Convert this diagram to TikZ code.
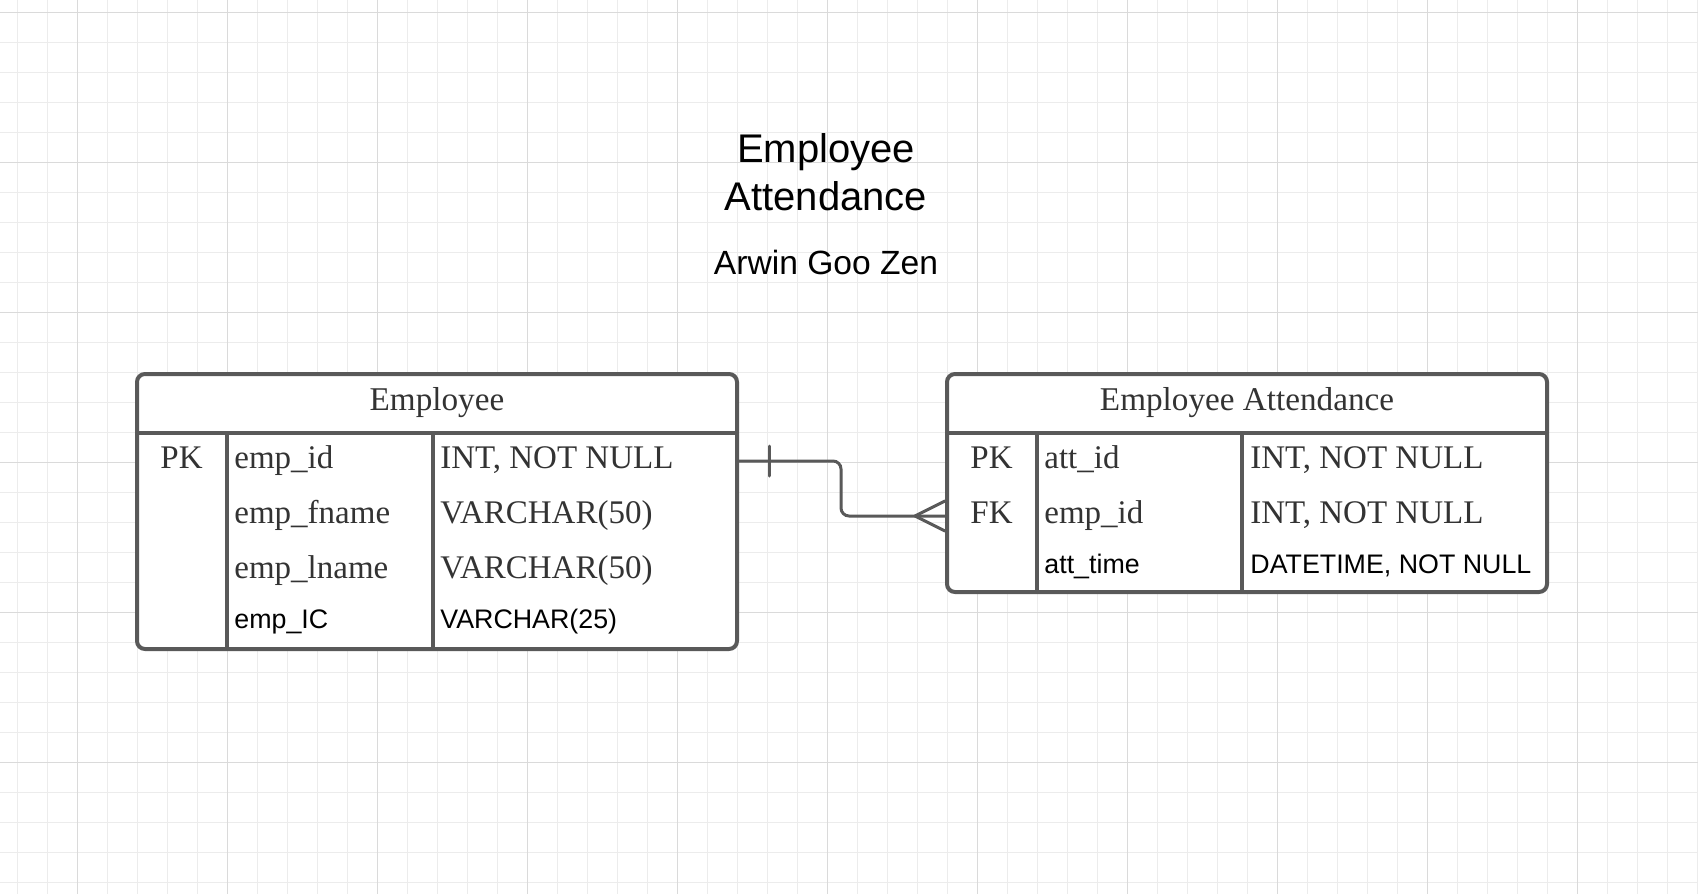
\documentclass[tikz,border=0pt]{standalone}
\usepackage{fontspec}
\setmainfont{Liberation Serif}
\setsansfont{Liberation Sans}
\usetikzlibrary{positioning}

\newlength{\du}
\setlength{\du}{0.5pt}

\definecolor{gridminor}{rgb}{0.925, 0.925, 0.925}
\definecolor{gridmajor}{rgb}{0.855, 0.855, 0.855}
\definecolor{boxline}{rgb}{0.350, 0.350, 0.350}
\definecolor{celltext}{rgb}{0.200, 0.200, 0.200}

\tikzset{
  minorline/.style={draw=gridminor, line width=1\du},
  majorline/.style={draw=gridmajor, line width=1\du},
  tablebox/.style={draw=boxline, fill=white, line width=4\du, rounded corners=8\du, inner sep=0pt},
  tableline/.style={draw=boxline, line width=4\du},
  relline/.style={draw=boxline, line width=3\du, line cap=round},
  headtext/.style={anchor=base, text=celltext, inner sep=0pt, font=\fontsize{16.6}{19}\selectfont},
  celltxt/.style={anchor=base west, text=celltext, inner sep=0pt, font=\fontsize{16.5}{19}\selectfont},
  keytxt/.style={anchor=base, text=celltext, inner sep=0pt, font=\fontsize{16.5}{19}\selectfont},
  sanstxt/.style={anchor=base west, text=black, inner sep=0pt, font=\sffamily\fontsize{13.4}{15}\selectfont},
  titletxt/.style={anchor=base, text=black, inner sep=0pt, font=\sffamily\fontsize{20}{24}\selectfont},
}

\begin{document}
\begin{tikzpicture}
\pgftransformxscale{1.000000}
\pgftransformyscale{-1.000000}
\useasboundingbox (0\du,0\du) rectangle (1698\du,894\du);
\fill[white] (0\du,0\du) rectangle (1698\du,894\du);
% background grid
\foreach \gx in {17,47,...,1697}
  \draw[minorline] (\gx\du,0\du) -- (\gx\du,894\du);
\foreach \gy in {12,42,...,893}
  \draw[minorline] (0\du,\gy\du) -- (1698\du,\gy\du);
\foreach \gx in {77,227,...,1697}
  \draw[majorline] (\gx\du,0\du) -- (\gx\du,894\du);
\foreach \gy in {12,162,...,893}
  \draw[majorline] (0\du,\gy\du) -- (1698\du,\gy\du);

% title
\node[titletxt] (title1) at (826\du,162\du) {Employee};
\node[titletxt] (title2) at (826\du,210.7\du) {Attendance};
\node[titletxt, font=\sffamily\fontsize{16.8}{20}\selectfont] (author) at (826\du,274\du) {Arwin Goo Zen};

% Employee table
\node[tablebox, minimum width=600\du, minimum height=275\du] (emp) at (437\du,511.5\du) {};
\draw[tableline] (137\du,433\du) -- (737\du,433\du);
\draw[tableline] (226.5\du,433\du) -- (226.5\du,649\du);
\draw[tableline] (433\du,433\du) -- (433\du,649\du);
\node[headtext] (empHead) at (437\du,410\du) {Employee};
\node[keytxt] (empPK) at (181.5\du,468\du) {PK};
\node[celltxt] (empId) at (234\du,468\du) {emp\_id};
\node[celltxt] (empIdType) at (440\du,468\du) {INT, NOT NULL};
\node[celltxt] (empFname) at (234\du,523\du) {emp\_fname};
\node[celltxt] (empFnameType) at (440\du,523\du) {VARCHAR(50)};
\node[celltxt] (empLname) at (234\du,578.5\du) {emp\_lname};
\node[celltxt] (empLnameType) at (440\du,578.5\du) {VARCHAR(50)};
\node[sanstxt] (empIC) at (234\du,628\du) {emp\_IC};
\node[sanstxt] (empICType) at (440\du,628\du) {VARCHAR(25)};

% Employee Attendance table
\node[tablebox, minimum width=600\du, minimum height=218\du] (att) at (1247\du,483\du) {};
\draw[tableline] (947\du,433\du) -- (1547\du,433\du);
\draw[tableline] (1036.5\du,433\du) -- (1036.5\du,592\du);
\draw[tableline] (1242\du,433\du) -- (1242\du,592\du);
\node[headtext] (attHead) at (1247\du,410\du) {Employee Attendance};
\node[keytxt] (attPK) at (991.5\du,468\du) {PK};
\node[celltxt] (attId) at (1044\du,468\du) {att\_id};
\node[celltxt] (attIdType) at (1250\du,468\du) {INT, NOT NULL};
\node[keytxt] (attFK) at (991.5\du,523\du) {FK};
\node[celltxt] (attEmp) at (1044\du,523\du) {emp\_id};
\node[celltxt] (attEmpType) at (1250\du,523\du) {INT, NOT NULL};
\node[sanstxt] (attTime) at (1044\du,573\du) {att\_time};
\node[sanstxt] (attTimeType) at (1250\du,573\du) {DATETIME, NOT NULL};

% relationship: one Employee to many attendance rows
\coordinate (empLink) at (739\du,461\du);
\coordinate (attLink) at (945\du,516\du);
\draw[relline, rounded corners=8\du] (empLink) -| (841\du,488\du) |- (attLink);
\draw[relline] (769\du,446\du) -- (769\du,476\du);
\draw[relline] (915\du,516\du) -- (945\du,501\du);
\draw[relline] (915\du,516\du) -- (945\du,531\du);
\end{tikzpicture}
\end{document}
